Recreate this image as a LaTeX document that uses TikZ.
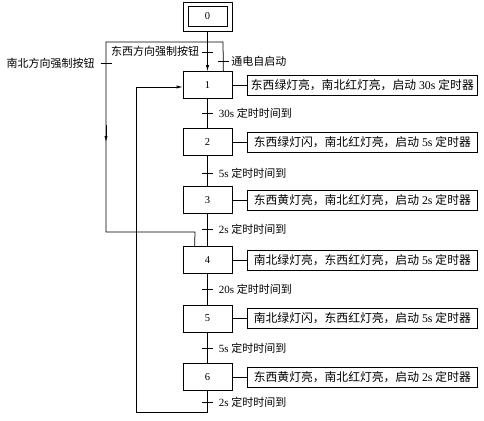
\documentclass[tikz,border=0pt]{standalone}
\usepackage{fontspec}
\setmainfont{Liberation Serif}
\newfontfamily\cjk{Noto Sans CJK SC}
\usetikzlibrary{arrows.meta,calc}
\begin{document}
\begin{tikzpicture}[x=1pt,y=-1pt,
  line width=0.75pt,
  stepbox/.style={draw, minimum width=49pt, minimum height=27pt, inner sep=0pt, font=\fontsize{10.5}{12}\selectfont},
  actbox/.style={draw, anchor=west, minimum width=230pt, minimum height=20pt, inner sep=1pt, font=\fontsize{11.8}{13}\selectfont},
  lbl/.style={font=\fontsize{11}{13}\selectfont, inner sep=1pt},
  arr/.style={-{Latex[length=6pt,width=3.2pt]}},
  tickline/.style={line width=0.75pt}
]
\useasboundingbox (0,0) rectangle (484,420);
% initial step
\node[draw, minimum width=49pt, minimum height=29pt, inner sep=0pt] (s0) at (207.5,16.5) {};
\node[draw, minimum width=39pt, minimum height=20pt, inner sep=0pt, font=\fontsize{10.5}{12}\selectfont] (s0in) at (s0.center) {0};
% steps
\node[stepbox] (s1) at (207.5,85) {1};
\node[stepbox] (s2) at (207.5,142) {2};
\node[stepbox] (s3) at (207.5,200) {3};
\node[stepbox] (s4) at (207.5,260) {4};
\node[stepbox] (s5) at (207.5,318.5) {5};
\node[stepbox] (s6) at (207.5,377) {6};
% actions
\node[actbox] (a1) at (247,85) {{\cjk 东西绿灯亮，南北红灯亮，启动} 30s {\cjk 定时器}};
\node[actbox] (a2) at (247,142) {{\cjk 东西绿灯闪，南北红灯亮，启动} 5s {\cjk 定时器}};
\node[actbox] (a3) at (247,200) {{\cjk 东西黄灯亮，南北红灯亮，启动} 2s {\cjk 定时器}};
\node[actbox] (a4) at (247,260) {{\cjk 南北绿灯亮，东西红灯亮，启动} 5s {\cjk 定时器}};
\node[actbox] (a5) at (247,318.5) {{\cjk 南北绿灯闪，东西红灯亮，启动} 5s {\cjk 定时器}};
\node[actbox] (a6) at (247,377) {{\cjk 东西黄灯亮，南北红灯亮，启动} 2s {\cjk 定时器}};
\foreach \i in {1,...,6}{\draw (s\i.east) -- (a\i.west);}
% main line
\draw[arr] (s0.south) -- (s1.north);
\draw (s1) -- (s2);
\draw (s2) -- (s3);
\draw (s3) -- (s4);
\draw (s4) -- (s5);
\draw (s5) -- (s6);
% bottom loop back to step 1
\coordinate (c1) at (207.5,412);
\coordinate (c2) at (136,412);
\coordinate (c3) at (136,87);
\coordinate (e1) at ($(s1.west)+(0,2)$);
\draw (s6.south) -- (c1) -- (c2) -- (c3);
\draw[arr] (c3) -- (e1);
% forced-button loop to step 4
\coordinate (d0) at ($(s1.north east)+(-9,0)$);
\coordinate (d1) at (223,42);
\coordinate (d2) at (106,42);
\coordinate (d3) at (106,232);
\coordinate (d4) at (195,232);
\coordinate (d5) at ($(s4.north west)+(12,0)$);
\coordinate (m1) at (106,125);
\coordinate (m2) at (106,142);
\draw (d0) -- (d1) -- (d2) -- (d3) -- (d4) -- (d5);
\draw[arr] (m1) -- (m2);
% transitions
\coordinate (tA) at (106,63);
\coordinate (tB) at (207.5,52);
\coordinate (tC) at (223,61);
\coordinate (t1) at (207.5,113);
\coordinate (t2) at (207.5,173);
\coordinate (t3) at (207.5,229);
\coordinate (t4) at (207.5,289);
\coordinate (t5) at (207.5,348);
\coordinate (t6) at (207.5,402);
\foreach \t in {tA,tB,tC,t1,t2,t3,t4,t5,t6}{\draw[tickline] ($(\t)+(-5.5,0)$) -- ($(\t)+(5.5,0)$);}
\node[lbl, anchor=east] (lA) at ($(tA)+(-10,0)$) {\cjk 南北方向强制按钮};
\node[lbl, anchor=east] (lB) at ($(tB)+(-7,-1)$) {\cjk 东西方向强制按钮};
\node[lbl, anchor=west] (lC) at ($(tC)+(7,0)$) {\cjk 通电自启动};
\node[lbl, anchor=west] (l1) at ($(t1)+(10,0)$) {30s {\cjk 定时时间到}};
\node[lbl, anchor=west] (l2) at ($(t2)+(10,0)$) {5s {\cjk 定时时间到}};
\node[lbl, anchor=west] (l3) at ($(t3)+(10,0)$) {2s {\cjk 定时时间到}};
\node[lbl, anchor=west] (l4) at ($(t4)+(10,0)$) {20s {\cjk 定时时间到}};
\node[lbl, anchor=west] (l5) at ($(t5)+(10,0)$) {5s {\cjk 定时时间到}};
\node[lbl, anchor=west] (l6) at ($(t6)+(10,0)$) {2s {\cjk 定时时间到}};
\end{tikzpicture}
\end{document}
